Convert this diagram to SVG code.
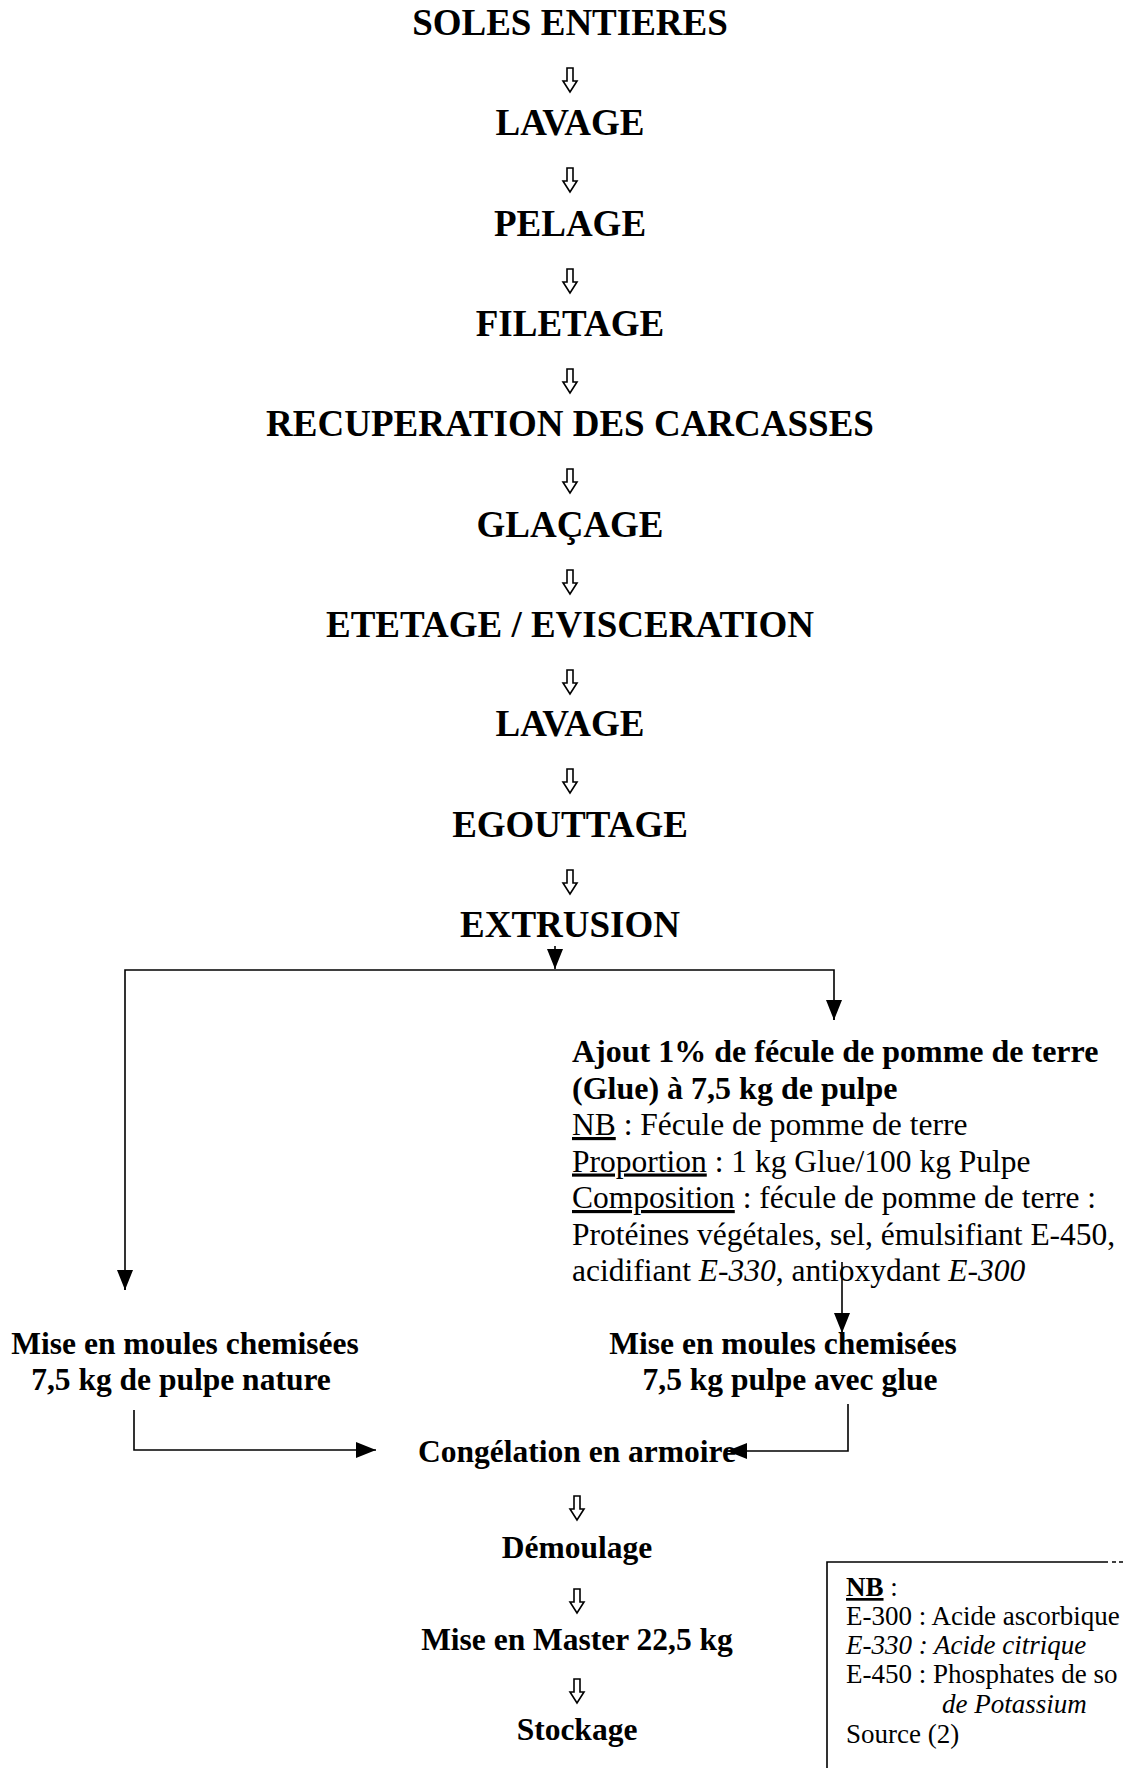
<svg xmlns="http://www.w3.org/2000/svg" xmlns:xlink="http://www.w3.org/1999/xlink" width="1123" height="1768" viewBox="0 0 1123 1768">
<style>
text{font-family:"Liberation Serif","Times New Roman",serif;fill:#000}
.t{font-size:37px;font-weight:bold;text-anchor:middle}
.b{font-size:31.5px;font-weight:bold;text-anchor:middle}
.r{font-size:31.5px}
.rb{font-size:32px;font-weight:bold}
.n{font-size:27px}
.u{text-decoration:underline}
.i{font-style:italic}
.ln{fill:none;stroke:#000;stroke-width:1.6}
.hollow{fill:#fff;stroke:#000;stroke-width:1.6;stroke-linejoin:miter}
</style>
<defs>
<marker id="ah" markerUnits="userSpaceOnUse" markerWidth="22" markerHeight="18" refX="20" refY="8" orient="auto">
<path d="M0,0 L20,8 L0,16 Z" fill="#000"/>
</marker>
<path id="dn" class="hollow" d="M-3,0 H3 V13 H7 L0,24 L-7,13 H-3 Z"/>
</defs>
<rect width="1123" height="1768" fill="#fff"/>

<g id="n1"><text class="t" x="570" y="35">SOLES ENTIERES</text></g>
<g id="n2"><text class="t" x="570" y="135">LAVAGE</text></g>
<g id="n3"><text class="t" x="570" y="236">PELAGE</text></g>
<g id="n4"><text class="t" x="570" y="336">FILETAGE</text></g>
<g id="n5"><text class="t" x="570" y="436">RECUPERATION DES CARCASSES</text></g>
<g id="n6"><text class="t" x="570" y="537">GLAÇAGE</text></g>
<g id="n7"><text class="t" x="570" y="637">ETETAGE / EVISCERATION</text></g>
<g id="n8"><text class="t" x="570" y="736">LAVAGE</text></g>
<g id="n9"><text class="t" x="570" y="837">EGOUTTAGE</text></g>
<g id="n10"><text class="t" x="570" y="937">EXTRUSION</text></g>

<g id="n11">
<text class="rb" x="572" y="1062">Ajout 1% de fécule de pomme de terre</text>
<text class="rb" x="572" y="1098.5">(Glue) à 7,5 kg de pulpe</text>
<text class="r" x="572" y="1135"><tspan class="u">NB</tspan> : Fécule de pomme de terre</text>
<text class="r" x="572" y="1171.5"><tspan class="u">Proportion</tspan> : 1 kg Glue/100 kg Pulpe</text>
<text class="r" x="572" y="1208"><tspan class="u">Composition</tspan> : fécule de pomme de terre :</text>
<text class="r" x="572" y="1244.5">Protéines végétales, sel, émulsifiant E-450,</text>
<text class="r" x="572" y="1281">acidifiant <tspan class="i">E-330</tspan>, antioxydant <tspan class="i">E-300</tspan></text>
</g>

<g id="n12">
<text class="b" x="185" y="1354">Mise en moules chemisées</text>
<text class="b" x="181" y="1390">7,5 kg de pulpe nature</text>
</g>
<g id="n13">
<text class="b" x="783" y="1354">Mise en moules chemisées</text>
<text class="b" x="790" y="1390">7,5 kg pulpe avec glue</text>
</g>

<g id="n14"><text class="b" x="577" y="1462">Congélation en armoire</text></g>
<g id="n15"><text class="b" x="577" y="1558">Démoulage</text></g>
<g id="n16"><text class="b" x="577" y="1650">Mise en Master 22,5 kg</text></g>
<g id="n17"><text class="b" x="577" y="1740">Stockage</text></g>

<g id="nb">
<path class="ln" d="M827,1768 V1562 H1108"/>
<path class="ln" d="M1112,1562 H1116 M1119,1562 H1123"/>
<text class="n" x="846" y="1596"><tspan class="u" font-weight="bold">NB</tspan> :</text>
<text class="n" x="846" y="1625">E-300 : Acide ascorbique</text>
<text class="n i" x="846" y="1654">E-330 : Acide citrique</text>
<text class="n" x="846" y="1683">E-450 : Phosphates de so</text>
<text class="n i" x="942" y="1713">de Potassium</text>
<text class="n" x="846" y="1743">Source (2)</text>
</g>

<g id="connectors">
<use xlink:href="#dn" x="570" y="68"/>
<use xlink:href="#dn" x="570" y="168"/>
<use xlink:href="#dn" x="570" y="269"/>
<use xlink:href="#dn" x="570" y="369"/>
<use xlink:href="#dn" x="570" y="469"/>
<use xlink:href="#dn" x="570" y="570"/>
<use xlink:href="#dn" x="570" y="670"/>
<use xlink:href="#dn" x="570" y="769"/>
<use xlink:href="#dn" x="570" y="870"/>
<path class="ln" d="M555,946 V969" marker-end="url(#ah)"/>
<path class="ln" d="M125,1290 V970 H834 V1020" />
<path class="ln" d="M125,1270 V1290" marker-end="url(#ah)"/>
<path class="ln" d="M834,1000 V1020" marker-end="url(#ah)"/>
<path class="ln" d="M842,1262 V1333" marker-end="url(#ah)"/>
<path class="ln" d="M134,1410 V1450 H376" marker-end="url(#ah)"/>
<path class="ln" d="M848,1404 V1451 H727" marker-end="url(#ah)"/>
<use xlink:href="#dn" x="577" y="1496"/>
<use xlink:href="#dn" x="577" y="1589"/>
<use xlink:href="#dn" x="577" y="1679"/>
</g>
</svg>
